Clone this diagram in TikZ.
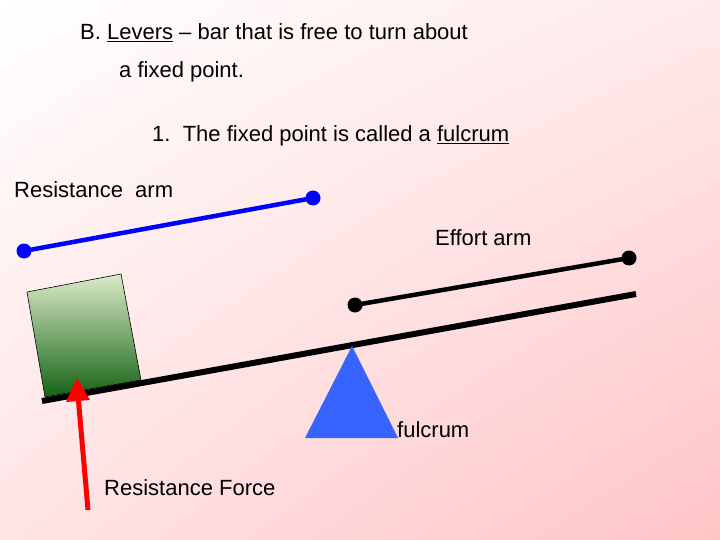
\documentclass[tikz,border=0pt]{standalone}
\usepackage{fontspec}
\setmainfont{Liberation Sans}
\usetikzlibrary{shadings}
\begin{document}
\begin{tikzpicture}[x=1pt,y=-1pt,
  txt/.style={anchor=base west,inner sep=0pt,font=\fontsize{22}{26}\selectfont},
  dot/.style={circle,inner sep=0pt,minimum size=15pt},
  armline/.style={line width=4.5pt}]
\definecolor{pinkbg}{RGB}{255,196,198}
\definecolor{tri}{RGB}{55,100,255}
\definecolor{darkg}{RGB}{20,100,20}
\definecolor{lightg}{RGB}{220,235,200}
\useasboundingbox (0,0) rectangle (720,540);
\shade[upper left=white,upper right=pinkbg!35,lower left=pinkbg!45,lower right=pinkbg] (0,0) rectangle (720,540);
\node[txt] (t1) at (80,40) {B. \underline{Levers} – bar that is free to turn about};
\node[txt] (t2) at (119,78) {a fixed point.};
\node[txt] (t3) at (152,142) {1.\ \ The fixed point is called a \underline{fulcrum}};
\node[txt] (ra) at (14,197) {Resistance\ \ arm};
\node[txt] (ea) at (435,245) {Effort arm};
\node[txt] (fl) at (397,437) {fulcrum};
\node[txt] (rf) at (104,495) {Resistance Force};
% box
\shade[top color=lightg,bottom color=darkg,draw=black,line width=0.6pt]
  (27,292) -- (121,274) -- (141,380) -- (45,397) -- cycle;
% lever
\coordinate (l1) at (42,401); \coordinate (l2) at (636,294);
\draw[line width=6pt] (l1) -- (l2);
% fulcrum
\fill[tri] (352,346) -- (398,438) -- (305,438) -- cycle;
\node (apex) at (352,346) {};
% resistance arm
\node[dot,fill=blue] (b1) at (24,251) {};
\node[dot,fill=blue] (b2) at (313,198) {};
\draw[armline,blue] (b1.center) -- (b2.center);
% effort arm
\node[dot,fill=black] (e1) at (355,305) {};
\node[dot,fill=black] (e2) at (629,258) {};
\draw[armline,black] (e1.center) -- (e2.center);
% force arrow
\coordinate (fs) at (88,510); \coordinate (ft) at (77,378);
\draw[red,line width=5pt] (fs) -- (78,395);
\fill[red] (ft) -- (90,400) -- (66,402) -- cycle;
\end{tikzpicture}
\end{document}
